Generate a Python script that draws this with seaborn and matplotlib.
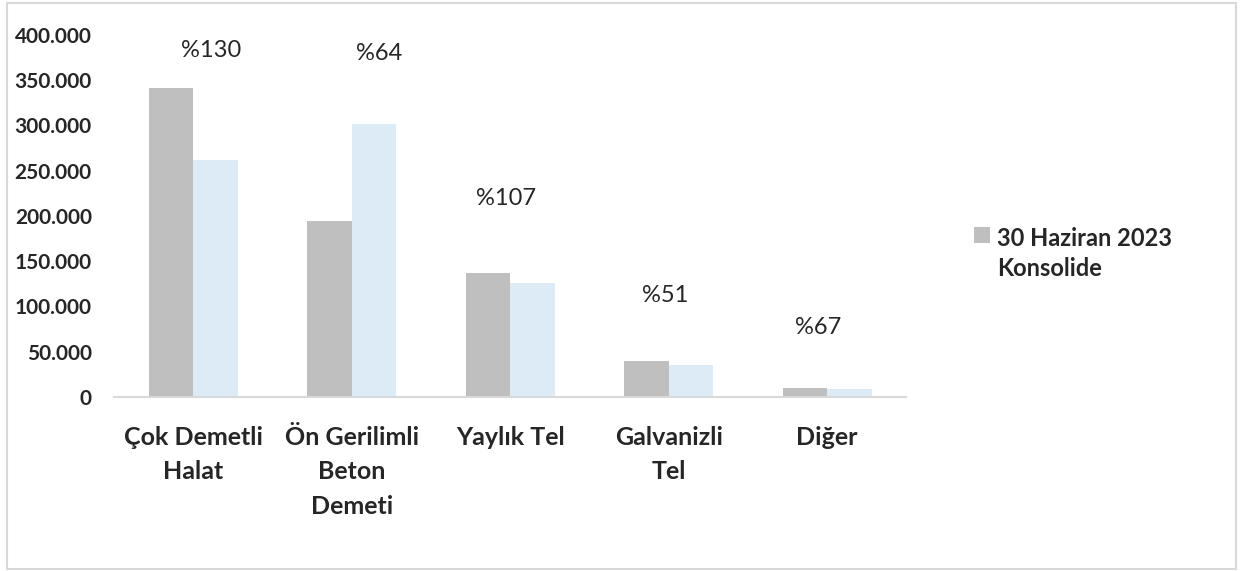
import pandas as pd
import numpy as np
import seaborn as sns
import matplotlib.pyplot as plt
import matplotlib.patches as mpatches
from matplotlib.legend_handler import HandlerPatch
from matplotlib.ticker import FuncFormatter

# veriler
kategoriler = ['Çok Demetli\nHalat', 'Ön Gerilimli\nBeton\nDemeti', 'Yaylık Tel', 'Galvanizli\nTel', 'Diğer']
seri_2023 = [341000, 194500, 137000, 39800, 10000]
seri_onceki = [262000, 301700, 126000, 35400, 8500]
seri_adlari = ['30 Haziran 2023\nKonsolide', 'Önceki dönem']
yuzde_etiketleri = ['%130', '%64', '%107', '%51', '%67']
y_etiketleri = [0, 50000, 100000, 150000, 200000, 250000, 300000, 350000, 400000]

# etiket yerleşimi
etiket_dx = [0.11, 0.17, -0.03, -0.02, -0.06]
etiket_y = [383000, 379000, 219000, 111800, 76500]

df = pd.DataFrame({
    'kategori': kategoriler * 2,
    'seri': [seri_adlari[0]] * 5 + [seri_adlari[1]] * 5,
    'deger': seri_2023 + seri_onceki,
})

sns.set_style('white')
plt.rcParams['font.family'] = ['Lato', 'DejaVu Sans']

fig = plt.figure(figsize=(12.4, 5.71), dpi=100)
ax = fig.add_axes([0.092, 0.305, 0.639, 0.634])

sns.barplot(data=df, x='kategori', y='deger', hue='seri', order=kategoriler,
            hue_order=seri_adlari, palette=['#bfbfbf', '#ddebf7'],
            width=0.56, gap=0, saturation=1, linewidth=0, legend=False, ax=ax)

ax.set_xlim(-0.5, len(kategoriler) - 0.5)
ax.set_ylim(0, 400000)
ax.set_yticks(y_etiketleri)
ax.yaxis.set_major_formatter(FuncFormatter(lambda v, p: f'{int(v):,}'.replace(',', '.')))
ax.set_xlabel('')
ax.set_ylabel('')
sns.despine(ax=ax, left=True)
ax.spines['bottom'].set_color('#d9d9d9')
ax.spines['bottom'].set_linewidth(1.5)
ax.tick_params(axis='y', length=0, pad=16, labelsize=15)
ax.tick_params(axis='x', length=0, pad=21, labelsize=18)
for t in ax.get_yticklabels():
    t.set_fontweight('bold')
for t in ax.get_xticklabels():
    t.set_fontweight('bold')
    t.set_linespacing(1.6)

# yüzde etiketleri
for i, lbl in enumerate(yuzde_etiketleri):
    ax.text(i + etiket_dx[i], etiket_y[i], lbl, ha='center', va='center',
            fontsize=17, color='#262626')


# lejant: kare ilk satırla hizalı
def ust_kare(legend, orig_handle, xdescent, ydescent, width, height, fontsize):
    return mpatches.Rectangle((-xdescent, -ydescent + fontsize * 0.85), width, height)


el = mpatches.Patch(facecolor='#bfbfbf', edgecolor='none')
leg = fig.legend([el], [seri_adlari[0]], loc='upper left', bbox_to_anchor=(0.768, 0.639),
                 frameon=False, handlelength=0.68, handleheight=0.68, handletextpad=0.3,
                 prop={'weight': 'bold', 'size': 17},
                 handler_map={mpatches.Patch: HandlerPatch(patch_func=ust_kare)})
for t in leg.get_texts():
    t.set_linespacing(1.35)

# dış çerçeve
fig.patches.append(mpatches.Rectangle((0.006, 0.003), 0.991, 0.991, transform=fig.transFigure,
                                      fill=False, edgecolor='#d9d9d9', linewidth=1.5))

plt.savefig('out.png', dpi=100)
